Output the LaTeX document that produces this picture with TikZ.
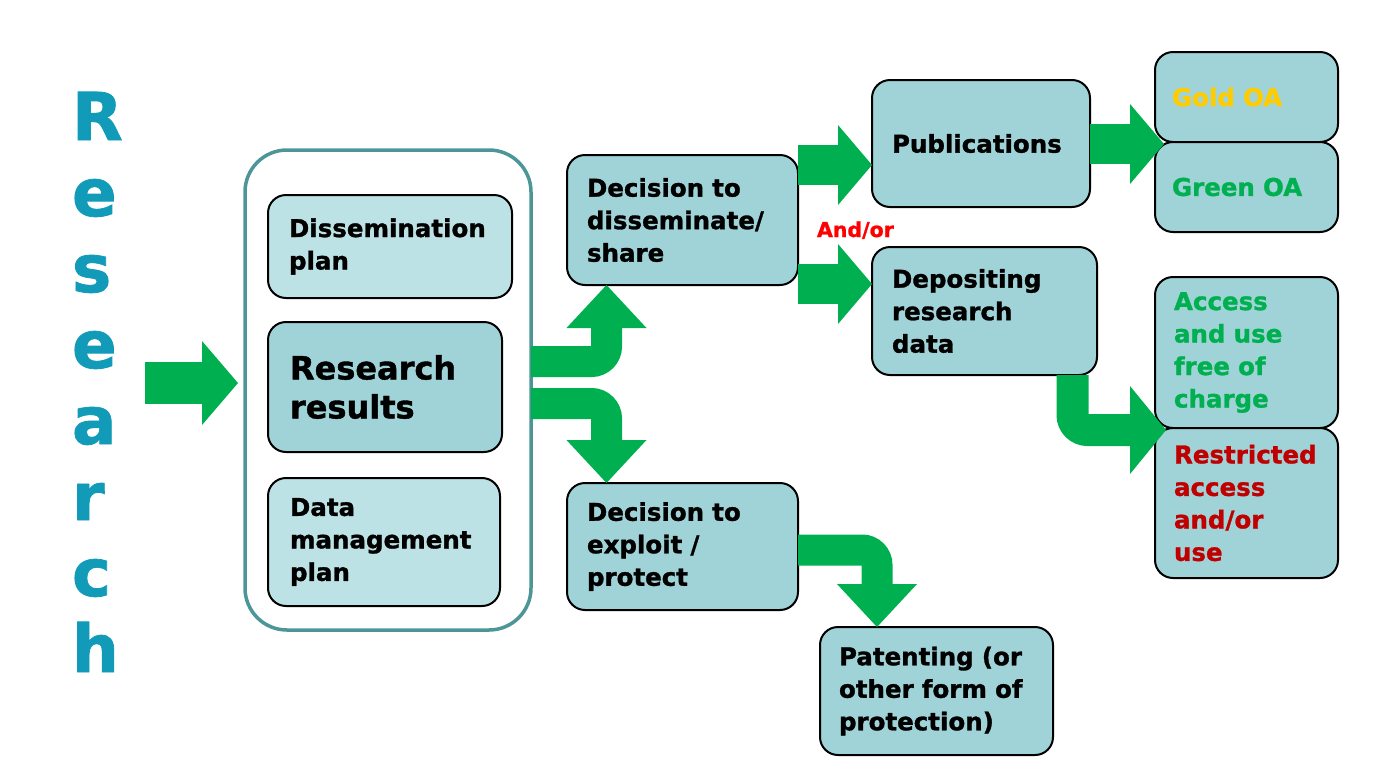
\documentclass[tikz,border=0pt]{standalone}
\usepackage{fontspec}
\setmainfont{DejaVu Sans}[BoldFeatures={FakeBold=1.2}]
\usetikzlibrary{arrows.meta}
\definecolor{boxmid}{RGB}{160,211,215}
\definecolor{boxlight}{RGB}{189,226,229}
\definecolor{framecol}{RGB}{77,150,151}
\definecolor{arrowgreen}{RGB}{0,176,80}
\definecolor{titleblue}{RGB}{18,155,185}
\definecolor{goldtext}{RGB}{255,204,0}
\definecolor{restred}{RGB}{192,0,0}
\definecolor{andred}{RGB}{255,0,0}
\begin{document}
\begin{tikzpicture}[x=1pt,y=-1pt,
  every node/.style={inner sep=0pt, outer sep=0pt},
  card/.style={draw=black, line width=2pt, rounded corners=18pt, fill=boxmid,
    font=\fontsize{24.5}{32.5}\selectfont\bfseries, align=left, inner ysep=0pt},
  lightcard/.style={card, fill=boxlight},
  bigletter/.style={anchor=base west, text=titleblue, font=\fontsize{66}{66}\selectfont\bfseries},
  flowstraight/.style={draw=arrowgreen, line width=40pt,
    -{Triangle[width=80pt,length=34pt,line width=0pt]}},
  flowbig/.style={draw=arrowgreen, line width=42pt,
    -{Triangle[width=84pt,length=36pt,line width=0pt]}},
  flowbent/.style={draw=arrowgreen, line width=31pt, rounded corners=15pt,
    -{Triangle[width=80pt,length=43pt,line width=0pt]}},
  flowbentside/.style={draw=arrowgreen, line width=32pt, rounded corners=15pt,
    -{Triangle[width=88pt,length=36pt,line width=0pt]}}
]
\useasboundingbox (0,0) rectangle (1394,774);

% vertical title
\node[bigletter] (L1) at (72,140) {R};
\node[bigletter] (L2) at (72,216) {e};
\node[bigletter] (L3) at (72,292) {s};
\node[bigletter] (L4) at (72,368) {e};
\node[bigletter] (L5) at (72,444) {a};
\node[bigletter] (L6) at (72,520) {r};
\node[bigletter] (L7) at (72,596) {c};
\node[bigletter] (L8) at (72,672) {h};

% container
\node[draw=framecol, line width=3.5pt, rounded corners=42pt, fill=white,
  minimum width=286pt, minimum height=480pt] (container) at (388,390) {};

% inner boxes
\node[lightcard, minimum width=244pt, minimum height=103pt, inner xsep=21pt, text width=202pt]
  (diss) at (390,246.5) {Dissemination\\plan};
\node[card, minimum width=234pt, minimum height=130pt, inner xsep=22pt, text width=190pt,
  font=\fontsize{32}{39}\selectfont\bfseries]
  (rr) at (385,387) {Research\\results};
\node[lightcard, minimum width=232pt, minimum height=128pt, inner xsep=22pt, text width=188pt]
  (dmp) at (384,542) {Data\\management\\plan};

% decisions
\node[card, minimum width=231pt, minimum height=130pt, inner xsep=20pt, text width=191pt]
  (decide) at (682.5,220) {Decision to\\disseminate/\\share};
\node[card, minimum width=231pt, minimum height=127pt, inner xsep=20pt, text width=191pt]
  (exploit) at (682.5,546.5) {Decision to\\exploit /\\protect};

% outcomes
\node[card, minimum width=218pt, minimum height=127pt, inner xsep=20pt, text width=178pt]
  (pub) at (981,143.5) {Publications};
\node[card, minimum width=225pt, minimum height=128pt, inner xsep=20pt, text width=185pt]
  (dep) at (984.5,311) {Depositing\\research\\data};
\node[card, minimum width=233pt, minimum height=128pt, inner xsep=19pt, text width=195pt]
  (pat) at (936.5,691) {Patenting (or\\other form of\\protection)};

% right column
\node[card, minimum width=183pt, minimum height=90pt, inner xsep=17pt, text width=149pt,
  text=goldtext] (gold) at (1246.5,97) {Gold OA};
\node[card, minimum width=183pt, minimum height=90pt, inner xsep=17pt, text width=149pt,
  text=arrowgreen] (green) at (1246.5,187) {Green OA};
\node[card, minimum width=183pt, minimum height=151pt, inner xsep=19pt, text width=145pt,
  text=arrowgreen] (access) at (1246.5,352.5) {Access\\and use\\free of\\charge};
\node[card, minimum width=183pt, minimum height=150pt, inner xsep=19pt, text width=145pt,
  text=restred] (restr) at (1246.5,503) {Restricted\\access\\and/or\\use};

% and/or label
\node[anchor=base west, text=andred, font=\fontsize{20.5}{24}\selectfont\bfseries]
  (andor) at (817,237) {And/or};

% block arrows
\coordinate (rsStart) at (145,383);
\draw[flowbig, shorten >=7pt] (rsStart) -- (rsStart -| container.west);

\coordinate (upRow) at (0,361.5);
\coordinate (dnRow) at (0,403.5);
\coordinate (midCol) at (606.5,0);
\draw[flowbent] (container.east |- upRow) -| (midCol |- decide.south);
\draw[flowbent] (container.east |- dnRow) -| (midCol |- exploit.north);

\coordinate (pubRow) at (0,165);
\coordinate (depRow) at (0,284);
\draw[flowstraight] (decide.east |- pubRow) -- (pub.west |- pubRow);
\draw[flowstraight] (decide.east |- depRow) -- (dep.west |- depRow);

\coordinate (goldTip) at (1164,144);
\draw[flowstraight] (pub.east |- goldTip) -- (goldTip);

\coordinate (accTip) at (1166,430);
\coordinate (depCol) at (1072.5,0);
\draw[flowbentside] (depCol |- dep.south) |- (accTip);

\coordinate (patRow) at (0,550);
\coordinate (patCol) at (877,0);
\draw[flowbent] (exploit.east |- patRow) -| (patCol |- pat.north);
\end{tikzpicture}
\end{document}
